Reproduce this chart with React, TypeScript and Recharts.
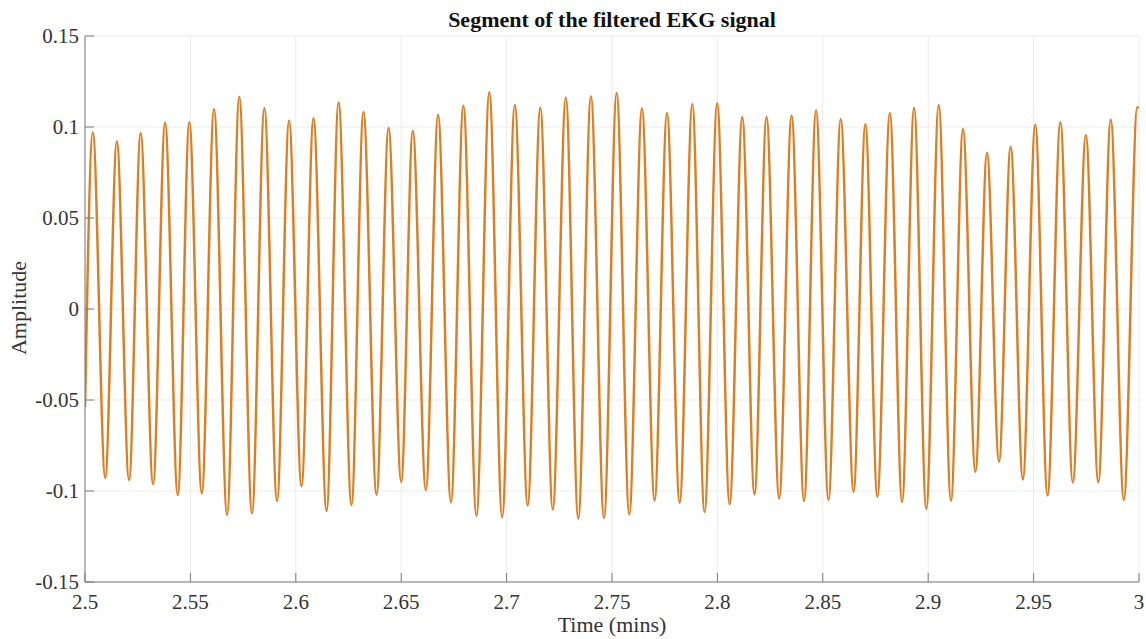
import React from "react";
import { LineChart, Line, XAxis, YAxis, CartesianGrid } from "recharts";

const W = 1146;
const H = 639;
const FONT = "'Liberation Serif', 'Times New Roman', serif";
const LINE_COLOR = "#d98027";
const AXIS_COLOR = "#7a7a7a";
const TEXT_COLOR = "#333333";

// signal extremes (time in mins, amplitude)
const startPoint = { t: 2.5, v: -0.054 };
const endPoint = { t: 3.0, v: 0.1105 };

const peakTimes = [
  2.5037, 2.5151, 2.5264, 2.538, 2.5495, 2.5612, 2.5732, 2.5851, 2.5968, 2.6084,
  2.6203, 2.6321, 2.644, 2.6555, 2.6675, 2.6795, 2.6918, 2.7039, 2.716, 2.7281,
  2.74, 2.7522, 2.7642, 2.7761, 2.7881, 2.7999, 2.8118, 2.8233, 2.8352, 2.8468,
  2.8585, 2.8702, 2.8818, 2.8933, 2.905, 2.9165, 2.9279, 2.9391, 2.9508, 2.9627,
  2.9748, 2.9866, 2.9992,
];
const peakValues = [
  0.097, 0.092, 0.0965, 0.1024, 0.1026, 0.1097, 0.1165, 0.1103, 0.1035, 0.1048,
  0.1134, 0.1082, 0.0995, 0.0978, 0.1066, 0.1117, 0.1191, 0.1121, 0.1106, 0.1161,
  0.1167, 0.1187, 0.1103, 0.1075, 0.1125, 0.113, 0.1055, 0.1055, 0.1062, 0.109,
  0.1042, 0.1015, 0.1075, 0.1104, 0.1119, 0.0987, 0.0859, 0.0892, 0.1013, 0.1026,
  0.0954, 0.104, 0.1108,
];

const troughTimes = [
  2.5096, 2.5209, 2.5323, 2.544, 2.5554, 2.5674, 2.5792, 2.5911, 2.6027, 2.6146,
  2.6264, 2.6383, 2.65, 2.6617, 2.6736, 2.6857, 2.6979, 2.71, 2.7219, 2.734,
  2.7462, 2.7582, 2.7702, 2.7821, 2.7939, 2.8058, 2.8176, 2.8293, 2.8411, 2.8527,
  2.8646, 2.8759, 2.8876, 2.8991, 2.9108, 2.9224, 2.9336, 2.9449, 2.9566, 2.9686,
  2.9807, 2.9928,
];
const troughValues = [
  -0.0927, -0.094, -0.0962, -0.1022, -0.1013, -0.113, -0.1123, -0.1055, -0.0973, -0.111,
  -0.1077, -0.102, -0.0949, -0.0995, -0.1062, -0.1137, -0.1143, -0.1079, -0.1101, -0.1152,
  -0.1148, -0.1128, -0.1053, -0.1064, -0.1115, -0.1073, -0.1018, -0.104, -0.1055, -0.1049,
  -0.1004, -0.1031, -0.106, -0.1099, -0.1053, -0.0894, -0.0839, -0.0936, -0.1024, -0.0952,
  -0.0952, -0.1049,
];

const xTicks = [2.5, 2.55, 2.6, 2.65, 2.7, 2.75, 2.8, 2.85, 2.9, 2.95, 3];
const yTicks = [-0.15, -0.1, -0.05, 0, 0.05, 0.1, 0.15];

const data = [
  startPoint,
  ...peakTimes.map((t, i) => ({ t, v: peakValues[i] })),
  ...troughTimes.map((t, i) => ({ t, v: troughValues[i] })),
  endPoint,
].sort((a, b) => a.t - b.t);

const fmt = (n: number) => String(Number(n.toFixed(4)));

const TICK_LEN = 9;

function BottomTick({ x, y, payload }: any) {
  return (
    <g>
      <line x1={x} x2={x} y1={y} y2={y - TICK_LEN} stroke={AXIS_COLOR} />
      <text x={x} y={y + 27} textAnchor="middle" fill={TEXT_COLOR}
        style={{ fontFamily: FONT, fontSize: 21 }}>
        {fmt(payload.value)}
      </text>
    </g>
  );
}

function LeftTick({ x, y, payload }: any) {
  return (
    <g>
      <line x1={x} x2={x + TICK_LEN} y1={y} y2={y} stroke={AXIS_COLOR} />
      <text x={x - 6} y={y + 7} textAnchor="end" fill={TEXT_COLOR}
        style={{ fontFamily: FONT, fontSize: 21 }}>
        {fmt(payload.value)}
      </text>
    </g>
  );
}

function TopTick({ x, y }: any) {
  return <line x1={x} x2={x} y1={y} y2={y + TICK_LEN} stroke={AXIS_COLOR} />;
}

function RightTick({ x, y }: any) {
  return <line x1={x} x2={x - TICK_LEN} y1={y} y2={y} stroke={AXIS_COLOR} />;
}

export default function App() {
  return (
    <div style={{ position: "relative", width: W, height: H, background: "#fff" }}>
      <style>{"body{margin:0;background:#fff}"}</style>
      <LineChart width={W} height={H} data={data}
        margin={{ top: 36, right: 7, bottom: 0, left: 0 }}>
        <CartesianGrid stroke="#ebebeb" />
        <XAxis dataKey="t" type="number" domain={[2.5, 3]} ticks={xTicks}
          allowDataOverflow height={57} tickSize={0} tickMargin={0}
          axisLine={{ stroke: AXIS_COLOR }} tick={<BottomTick />} interval={0} />
        <XAxis xAxisId="top" orientation="top" dataKey="t" type="number"
          domain={[2.5, 3]} ticks={xTicks} allowDataOverflow height={0}
          tickSize={0} tickMargin={0} axisLine={{ stroke: AXIS_COLOR }}
          tick={<TopTick />} interval={0} />
        <YAxis type="number" domain={[-0.15, 0.15]} ticks={yTicks}
          allowDataOverflow width={85} tickSize={0} tickMargin={0}
          axisLine={{ stroke: AXIS_COLOR }} tick={<LeftTick />} interval={0} />
        <YAxis yAxisId="right" orientation="right" type="number"
          domain={[-0.15, 0.15]} ticks={yTicks} allowDataOverflow width={0}
          tickSize={0} tickMargin={0} axisLine={{ stroke: AXIS_COLOR }}
          tick={<RightTick />} interval={0} />
        <Line dataKey="v" type="monotone" stroke={LINE_COLOR} strokeWidth={2.5}
          dot={false} isAnimationActive={false} />
      </LineChart>
      <svg width={W} height={H}
        style={{ position: "absolute", left: 0, top: 0, pointerEvents: "none" }}>
        <text x={612} y={27} textAnchor="middle" fill="#111"
          style={{ fontFamily: FONT, fontSize: 22, fontWeight: 700 }}>
          Segment of the filtered EKG signal
        </text>
        <text x={612} y={632} textAnchor="middle" fill={TEXT_COLOR}
          style={{ fontFamily: FONT, fontSize: 22 }}>
          Time (mins)
        </text>
        <text x={26} y={308} textAnchor="middle" fill={TEXT_COLOR}
          transform="rotate(-90 26 308)"
          style={{ fontFamily: FONT, fontSize: 22 }}>
          Amplitude
        </text>
      </svg>
    </div>
  );
}
